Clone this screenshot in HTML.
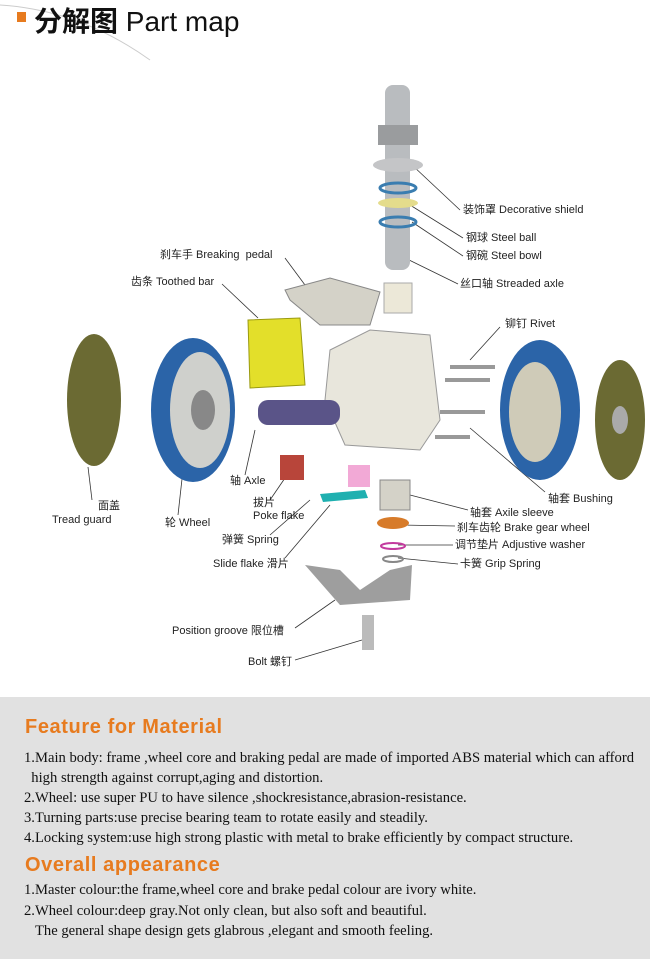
<!DOCTYPE html>
<html><head><meta charset="utf-8"><style>
body{margin:0;width:650px;height:959px;background:#fff;position:relative;overflow:hidden;font-family:"Liberation Sans","Noto Sans CJK SC",sans-serif}
.l{position:absolute;font-size:11px;color:#222;white-space:nowrap;line-height:12px}
#bot{position:absolute;left:0;top:697px;width:650px;height:262px;background:#e1e1e1}
.h{position:absolute;left:25px;font-weight:bold;font-size:20px;color:#e77b1f;letter-spacing:0.6px}
.t{position:absolute;left:24px;font-family:"Liberation Serif",serif;font-size:14.2px;color:#111;white-space:nowrap;transform-origin:0 0;transform:scaleX(1.03)}
</style></head><body>
<svg width="650" height="697" style="position:absolute;left:0;top:0">
<path d="M0 5 Q80 10 150 60" stroke="#ccc" fill="none"/>
<rect x="17" y="12" width="9" height="10" fill="#e77b1f"/>
<text x="34" y="31" font-size="28" font-family="Liberation Sans,Noto Sans CJK SC,sans-serif" fill="#111"><tspan font-weight="bold">分解图</tspan> Part map</text>
<g stroke="#333" stroke-width="0.8" fill="none">
<path d="M412 165 L460 210"/><path d="M410 205 L463 238"/><path d="M412 222 L463 256"/><path d="M405 258 L458 284"/>
<path d="M285 258 L305 285"/><path d="M222 284 L258 318"/><path d="M500 327 L470 360"/>
<path d="M88 467 L92 500"/><path d="M183 470 L178 515"/><path d="M255 430 L245 475"/>
<path d="M285 478 L270 500"/><path d="M310 500 L270 535"/><path d="M330 505 L285 558"/>
<path d="M470 428 L545 492"/><path d="M410 495 L468 510"/><path d="M400 525 L455 526"/><path d="M398 545 L453 545"/><path d="M398 558 L458 564"/>
<path d="M335 600 L295 628"/><path d="M362 640 L295 660"/>
</g>
<ellipse cx="94" cy="400" rx="27" ry="66" fill="#6b6a33"/>
<ellipse cx="193" cy="410" rx="42" ry="72" fill="#2b64a8"/>
<ellipse cx="200" cy="410" rx="30" ry="58" fill="#cfd0cc"/>
<ellipse cx="203" cy="410" rx="12" ry="20" fill="#888"/>
<rect x="385" y="85" width="25" height="185" rx="8" fill="#b9bcbf"/>
<rect x="378" y="125" width="40" height="20" fill="#9a9c9e"/>
<ellipse cx="398" cy="165" rx="25" ry="7" fill="#c4c5c7"/>
<ellipse cx="398" cy="188" rx="18" ry="5" fill="none" stroke="#3a7db0" stroke-width="3"/>
<ellipse cx="398" cy="203" rx="20" ry="5" fill="#e4dc8c"/>
<ellipse cx="398" cy="222" rx="18" ry="5" fill="none" stroke="#3a7db0" stroke-width="3"/>
<rect x="384" y="283" width="28" height="30" fill="#ece8d8" stroke="#aaa"/>
<path d="M285 290 L330 278 L380 292 L370 325 L320 325 L290 300Z" fill="#d4d2c8" stroke="#888"/>
<path d="M248 320 L300 318 L305 385 L250 388Z" fill="#e3df2a" stroke="#9a9a10"/>
<path d="M330 350 L370 330 L430 335 L440 420 L420 450 L345 445 L325 400Z" fill="#e8e6dc" stroke="#999"/>
<rect x="258" y="400" width="82" height="25" rx="10" fill="#5a5488"/>
<rect x="450" y="365" width="45" height="4" fill="#999"/><rect x="445" y="378" width="45" height="4" fill="#999"/><rect x="440" y="410" width="45" height="4" fill="#999"/><rect x="435" y="435" width="35" height="4" fill="#999"/>
<ellipse cx="540" cy="410" rx="40" ry="70" fill="#2b64a8"/>
<ellipse cx="535" cy="412" rx="26" ry="50" fill="#cfcbb8"/>
<ellipse cx="620" cy="420" rx="25" ry="60" fill="#6b6a33"/>
<ellipse cx="620" cy="420" rx="8" ry="14" fill="#aaa"/>
<rect x="280" y="455" width="24" height="25" fill="#b8453a"/>
<rect x="348" y="465" width="22" height="22" fill="#f2a9d6"/>
<path d="M320 494 L365 490 L368 498 L323 502Z" fill="#1fb0b0"/>
<rect x="380" y="480" width="30" height="30" fill="#d4d2c8" stroke="#888"/>
<ellipse cx="393" cy="523" rx="16" ry="6" fill="#d77b2a"/>
<ellipse cx="393" cy="546" rx="12" ry="3" fill="none" stroke="#c33a9e" stroke-width="2"/>
<ellipse cx="393" cy="559" rx="10" ry="3" fill="none" stroke="#888" stroke-width="2"/>
<path d="M305 565 L340 570 L360 590 L390 570 L412 565 L410 600 L340 605Z" fill="#9e9e9e"/>
<rect x="362" y="615" width="12" height="35" fill="#bbb"/>
</svg>
<div class="l" style="left:463px;top:204px">装饰罩 Decorative shield</div>
<div class="l" style="left:466px;top:232px">钢球 Steel ball</div>
<div class="l" style="left:466px;top:250px">钢碗 Steel bowl</div>
<div class="l" style="left:460px;top:278px">丝口轴 Streaded axle</div>
<div class="l" style="left:160px;top:249px">刹车手 Breaking&nbsp; pedal</div>
<div class="l" style="left:131px;top:276px">齿条 Toothed bar</div>
<div class="l" style="left:505px;top:318px">铆钉 Rivet</div>
<div class="l" style="left:98px;top:500px">面盖</div>
<div class="l" style="left:52px;top:514px">Tread guard</div>
<div class="l" style="left:165px;top:517px">轮 Wheel</div>
<div class="l" style="left:230px;top:475px">轴 Axle</div>
<div class="l" style="left:253px;top:497px">拔片</div>
<div class="l" style="left:253px;top:510px">Poke flake</div>
<div class="l" style="left:222px;top:534px">弹簧 Spring</div>
<div class="l" style="left:213px;top:558px">Slide flake 滑片</div>
<div class="l" style="left:548px;top:493px">轴套 Bushing</div>
<div class="l" style="left:470px;top:507px">轴套 Axile sleeve</div>
<div class="l" style="left:457px;top:522px">刹车齿轮 Brake gear wheel</div>
<div class="l" style="left:455px;top:539px">调节垫片 Adjustive washer</div>
<div class="l" style="left:460px;top:558px">卡簧 Grip Spring</div>
<div class="l" style="left:172px;top:625px">Position groove 限位槽</div>
<div class="l" style="left:248px;top:656px">Bolt 螺钉</div>
<div id="bot">
<div class="h" style="top:19px">Feature for Material</div>
<div class="t" style="top:53px">1.Main body: frame ,wheel core and braking pedal are made of imported ABS material which can afford</div>
<div class="t" style="top:73px">&nbsp;&nbsp;high strength against corrupt,aging and distortion.</div>
<div class="t" style="top:93px">2.Wheel: use super PU to have silence ,shockresistance,abrasion-resistance.</div>
<div class="t" style="top:113px">3.Turning parts:use precise bearing team to rotate easily and steadily.</div>
<div class="t" style="top:133px">4.Locking system:use high strong plastic with metal to brake efficiently by compact structure.</div>
<div class="h" style="top:157px">Overall appearance</div>
<div class="t" style="top:185px">1.Master colour:the frame,wheel core and brake pedal colour are ivory white.</div>
<div class="t" style="top:206px">2.Wheel colour:deep gray.Not only clean, but also soft and beautiful.</div>
<div class="t" style="top:226px">&nbsp;&nbsp;&nbsp;The general shape design gets glabrous ,elegant and smooth feeling.</div>
</div>
</body></html>
